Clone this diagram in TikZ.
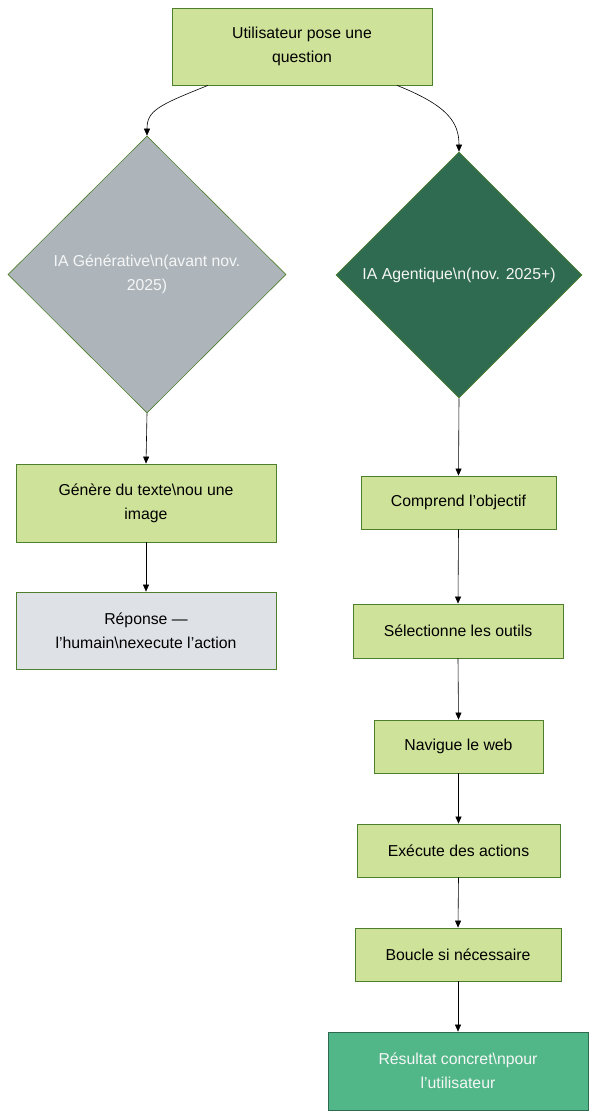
\documentclass[tikz,border=0pt]{standalone}
\usepackage{fontspec}
\setmainfont{Liberation Sans}[Ligatures=ResetAll]
\usetikzlibrary{shapes.geometric,arrows.meta}
\definecolor{stepfill}{HTML}{CFE29A}
\definecolor{stepline}{HTML}{4E7F2C}
\definecolor{genfill}{HTML}{ADB5BB}
\definecolor{agentfill}{HTML}{2E6B50}
\definecolor{replyfill}{HTML}{DEE2E6}
\definecolor{resultfill}{HTML}{52B788}
\definecolor{resultline}{HTML}{2D6A4F}
\definecolor{lighttext}{HTML}{F6F6F6}
\tikzset{
  box/.style={draw=stepline, line width=0.8pt, fill=stepfill, inner sep=0pt,
    align=center, font=\fontsize{15.8}{24}\selectfont, text=black},
  choice/.style={diamond, draw=stepline, line width=0.6pt, inner sep=0pt,
    align=center, font=\fontsize{15.8}{24}\selectfont, text=lighttext},
  flow/.style={draw=black, line width=0.6pt, -{Triangle[length=7pt,width=6pt]}},
}
\newcommand{\bs}{\textbackslash}
\newcommand{\ap}{\symbol{"27}}
\begin{document}
\begin{tikzpicture}[x=1pt,y=-1pt]
\useasboundingbox (0,0) rectangle (597,1118);

% question and the two kinds of AI
\node[box, minimum width=260pt, minimum height=77pt] (ask) at (302,46.5)
  {Utilisateur pose une\\question};
\node[choice, fill=genfill, minimum width=278pt, minimum height=277pt] (gen) at (147,274.5)
  {IA Générative\bs n(avant nov.\\2025)};
\node[choice, fill=agentfill, minimum width=246pt, minimum height=246pt] (agent) at (459,275)
  {IA Agentique\bs n(nov. 2025+)};

% generative branch
\node[box, minimum width=260pt, minimum height=78pt] (text) at (146,503)
  {Génère du texte\bs nou une\\image};
\node[box, fill=replyfill, minimum width=260pt, minimum height=77pt] (reply) at (146,630.5)
  {Réponse —\\l\ap humain\bs nexecute l\ap action};

% agentic branch
\node[box, minimum width=195pt, minimum height=53pt] (goal) at (458.5,502.5) {Comprend l\ap objectif};
\node[box, minimum width=210pt, minimum height=54pt] (tools) at (458,631) {Sélectionne les outils};
\node[box, minimum width=169pt, minimum height=53pt] (web) at (458.5,746.5) {Navigue le web};
\node[box, minimum width=203pt, minimum height=53pt] (act) at (458.5,850.5) {Exécute des actions};
\node[box, minimum width=206pt, minimum height=53pt] (loop) at (458,954.5) {Boucle si nécessaire};
\node[box, draw=resultline, fill=resultfill, text=lighttext, minimum width=260pt, minimum height=78pt]
  (result) at (458,1071) {Résultat concret\bs npour\\l\ap utilisateur};

% connectors
\draw[flow] ([xshift=-94pt]ask.south) .. controls +(-50,20) and +(0,-25) .. (gen.north);
\draw[flow] ([xshift=95pt]ask.south) .. controls +(50,20) and +(0,-30) .. (agent.north);
\draw[flow] (gen.south) -- (text.north);
\draw[flow] (text.south) -- (reply.north);
\draw[flow] (agent.south) -- (goal.north);
\draw[flow] (goal.south) -- (tools.north);
\draw[flow] (tools.south) -- (web.north);
\draw[flow] (web.south) -- (act.north);
\draw[flow] (act.south) -- (loop.north);
\draw[flow] (loop.south) -- (result.north);
\end{tikzpicture}
\end{document}
